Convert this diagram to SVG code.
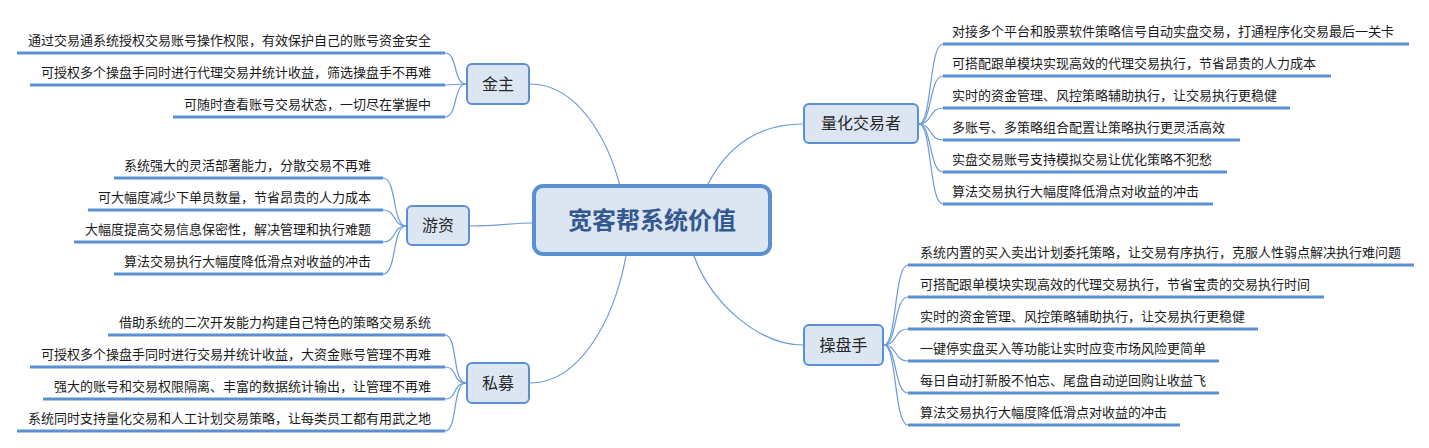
<svg xmlns="http://www.w3.org/2000/svg" width="1429" height="448" viewBox="0 0 1429 448">
<style>
.bg{fill:#ffffff}
.conn{fill:none;stroke:#6b9bd8;stroke-width:1.2}
.ul{stroke:#5b8fd4;stroke-width:3;stroke-linecap:butt}
.box{fill:#dce6f2;stroke:#5b8fd4;stroke-width:2}
.cbox{fill:#dce6f2;stroke:#5b8fd4;stroke-width:4}
.lbl{font-family:"Noto Sans CJK SC","Noto Sans",sans-serif;font-size:16px;fill:#262626;text-anchor:middle}
.ctr{font-family:"Noto Sans CJK SC","Noto Sans",sans-serif;font-size:24px;font-weight:bold;fill:#34598f;text-anchor:middle}
.it{font-family:"Noto Sans CJK SC","Noto Sans",sans-serif;font-size:13px;fill:#1a1a1a}
.l{text-anchor:end}
</style>
<rect class="bg" x="0" y="0" width="1429" height="448"/>
<g id="connectors">
<path class="conn" d="M530,84 C578,84 608,140 620,186"/>
<path class="conn" d="M470,226 C500,226 510,223 532,223"/>
<path class="conn" d="M626,256 C614,320 580,383 530,383"/>
<path class="conn" d="M707,186 C730,140 765,124 803,124"/>
<path class="conn" d="M694,256 C712,305 760,345 803,345"/>
<path class="conn" d="M466,84 C453,84 458,53 445,53"/>
<path class="conn" d="M466,84 L445,85"/>
<path class="conn" d="M466,84 C453,84 458,117 445,117"/>
<path class="conn" d="M406,226 C392,226 397,178 383,178"/>
<path class="conn" d="M406,226 C392,226 397,210 383,210"/>
<path class="conn" d="M406,226 C392,226 397,242 383,242"/>
<path class="conn" d="M406,226 C392,226 397,274 383,274"/>
<path class="conn" d="M466,383 C452,383 458,335 445,335"/>
<path class="conn" d="M466,383 C452,383 458,367 445,367"/>
<path class="conn" d="M466,383 C452,383 458,399 445,399"/>
<path class="conn" d="M466,383 C452,383 458,431 445,431"/>
<path class="conn" d="M919,124 C932,124 929,44 943,44"/>
<path class="conn" d="M919,124 C932,124 929,76 943,76"/>
<path class="conn" d="M919,124 C932,124 929,108 943,108"/>
<path class="conn" d="M919,124 C932,124 929,140 943,140"/>
<path class="conn" d="M919,124 C932,124 929,172 943,172"/>
<path class="conn" d="M919,124 C932,124 929,204 943,204"/>
<path class="conn" d="M884,345 C897,345 894,265 908,265"/>
<path class="conn" d="M884,345 C897,345 894,297 908,297"/>
<path class="conn" d="M884,345 C897,345 894,329 908,329"/>
<path class="conn" d="M884,345 C897,345 894,361 908,361"/>
<path class="conn" d="M884,345 C897,345 894,393 908,393"/>
<path class="conn" d="M884,345 C897,345 894,425 908,425"/>
</g>
<g id="center">
<rect class="cbox" x="534" y="186" width="236" height="68" rx="9"/>
<text class="ctr" x="652" y="229">宽客帮系统价值</text>
</g>
<g id="jinzhu">
<rect class="box" x="467" y="64" width="62" height="40" rx="5"/>
<text class="lbl" x="498" y="90">金主</text>
<line class="ul" x1="17" y1="53" x2="445" y2="53"/>
<line class="ul" x1="30" y1="85" x2="445" y2="85"/>
<line class="ul" x1="173" y1="117" x2="445" y2="117"/>
<text class="it l" x="431" y="45">通过交易通系统授权交易账号操作权限，有效保护自己的账号资金安全</text>
<text class="it l" x="431" y="77">可授权多个操盘手同时进行代理交易并统计收益，筛选操盘手不再难</text>
<text class="it l" x="431" y="109">可随时查看账号交易状态，一切尽在掌握中</text>
</g>
<g id="youzi">
<rect class="box" x="407" y="206" width="62" height="39" rx="5"/>
<text class="lbl" x="438" y="231">游资</text>
<line class="ul" x1="114" y1="178" x2="383" y2="178"/>
<line class="ul" x1="88" y1="210" x2="383" y2="210"/>
<line class="ul" x1="74" y1="242" x2="383" y2="242"/>
<line class="ul" x1="114" y1="274" x2="383" y2="274"/>
<text class="it l" x="371" y="170">系统强大的灵活部署能力，分散交易不再难</text>
<text class="it l" x="371" y="202">可大幅度减少下单员数量，节省昂贵的人力成本</text>
<text class="it l" x="371" y="234">大幅度提高交易信息保密性，解决管理和执行难题</text>
<text class="it l" x="371" y="266">算法交易执行大幅度降低滑点对收益的冲击</text>
</g>
<g id="simu">
<rect class="box" x="467" y="363" width="62" height="40" rx="5"/>
<text class="lbl" x="498" y="389">私募</text>
<line class="ul" x1="108" y1="335" x2="445" y2="335"/>
<line class="ul" x1="30" y1="367" x2="445" y2="367"/>
<line class="ul" x1="43" y1="399" x2="445" y2="399"/>
<line class="ul" x1="17" y1="431" x2="445" y2="431"/>
<text class="it l" x="431" y="327">借助系统的二次开发能力构建自己特色的策略交易系统</text>
<text class="it l" x="431" y="359">可授权多个操盘手同时进行交易并统计收益，大资金账号管理不再难</text>
<text class="it l" x="431" y="391">强大的账号和交易权限隔离、丰富的数据统计输出，让管理不再难</text>
<text class="it l" x="431" y="423">系统同时支持量化交易和人工计划交易策略，让每类员工都有用武之地</text>
</g>
<g id="lianghua">
<rect class="box" x="804" y="104" width="114" height="39" rx="5"/>
<text class="lbl" x="861" y="129">量化交易者</text>
<line class="ul" x1="943" y1="44" x2="1409" y2="44"/>
<line class="ul" x1="943" y1="76" x2="1331" y2="76"/>
<line class="ul" x1="943" y1="108" x2="1290" y2="108"/>
<line class="ul" x1="943" y1="140" x2="1240" y2="140"/>
<line class="ul" x1="943" y1="172" x2="1227" y2="172"/>
<line class="ul" x1="943" y1="204" x2="1213" y2="204"/>
<text class="it" x="952" y="36">对接多个平台和股票软件策略信号自动实盘交易，打通程序化交易最后一关卡</text>
<text class="it" x="952" y="68">可搭配跟单模块实现高效的代理交易执行，节省昂贵的人力成本</text>
<text class="it" x="952" y="100">实时的资金管理、风控策略辅助执行，让交易执行更稳健</text>
<text class="it" x="952" y="132">多账号、多策略组合配置让策略执行更灵活高效</text>
<text class="it" x="952" y="164">实盘交易账号支持模拟交易让优化策略不犯愁</text>
<text class="it" x="952" y="196">算法交易执行大幅度降低滑点对收益的冲击</text>
</g>
<g id="caopanshou">
<rect class="box" x="804" y="325" width="79" height="40" rx="5"/>
<text class="lbl" x="843.5" y="351">操盘手</text>
<line class="ul" x1="908" y1="265" x2="1414" y2="265"/>
<line class="ul" x1="908" y1="297" x2="1324" y2="297"/>
<line class="ul" x1="908" y1="329" x2="1258" y2="329"/>
<line class="ul" x1="908" y1="361" x2="1219" y2="361"/>
<line class="ul" x1="908" y1="393" x2="1219" y2="393"/>
<line class="ul" x1="908" y1="425" x2="1180" y2="425"/>
<text class="it" x="920" y="257">系统内置的买入卖出计划委托策略，让交易有序执行，克服人性弱点解决执行难问题</text>
<text class="it" x="920" y="289">可搭配跟单模块实现高效的代理交易执行，节省宝贵的交易执行时间</text>
<text class="it" x="920" y="321">实时的资金管理、风控策略辅助执行，让交易执行更稳健</text>
<text class="it" x="920" y="353">一键停实盘买入等功能让实时应变市场风险更简单</text>
<text class="it" x="920" y="385">每日自动打新股不怕忘、尾盘自动逆回购让收益飞</text>
<text class="it" x="920" y="417">算法交易执行大幅度降低滑点对收益的冲击</text>
</g>
</svg>
